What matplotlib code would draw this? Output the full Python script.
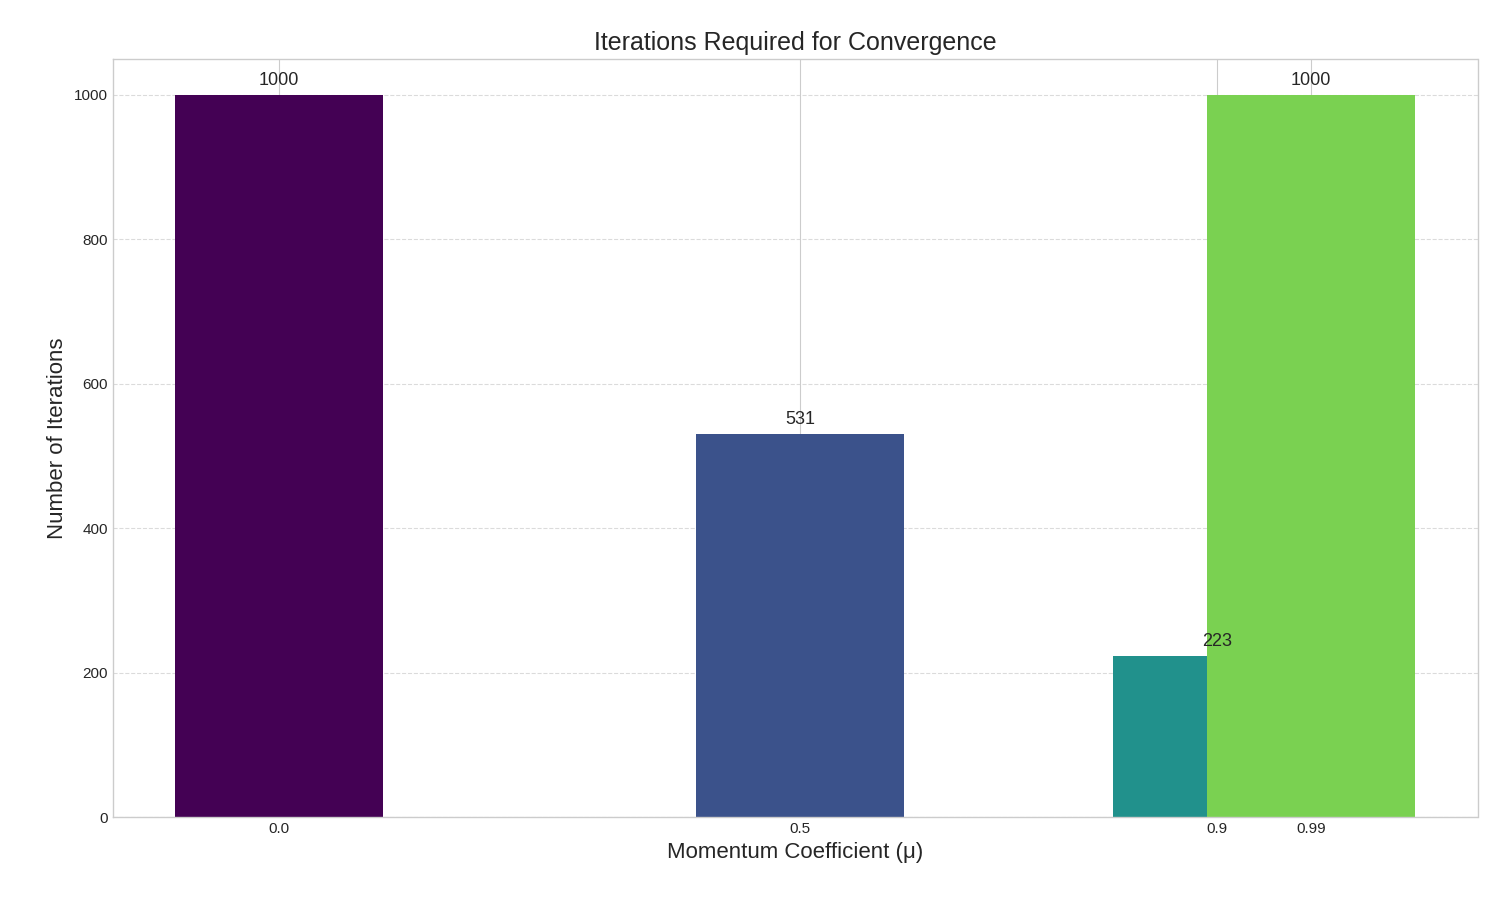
import matplotlib
matplotlib.use("Agg")
import matplotlib.pyplot as plt

mu = [0.0, 0.5, 0.9, 0.99]
iters = [1000, 531, 223, 1000]
tick_labels = ["0.0", "0.5", "0.9", "0.99"]
colors = ["#440154", "#3B528B", "#21918C", "#7AD151"]

plt.style.use("seaborn-v0_8-whitegrid")
fig, ax = plt.subplots(figsize=(15, 9), dpi=100)
fig.subplots_adjust(left=0.075, right=0.985, top=0.935, bottom=0.092)
bars = ax.bar(mu, iters, width=0.2, color=colors)
for x, v in zip(mu, iters):
    ax.text(x, v + 8, str(v), ha="center", va="bottom", fontsize=13, color="#262626")
ax.set_xticks(mu)
ax.set_xticklabels(tick_labels)
ax.tick_params(labelsize=11)
ax.set_ylim(0, 1050)
ax.grid(axis="y", linestyle="--", alpha=0.7)
for s in ax.spines.values():
    s.set_visible(True)
    s.set_color("#cccccc")
ax.set_title("Iterations Required for Convergence", fontsize=18)
ax.set_xlabel("Momentum Coefficient (μ)", fontsize=16)
ax.set_ylabel("Number of Iterations", fontsize=16)
fig.savefig("out.png")
